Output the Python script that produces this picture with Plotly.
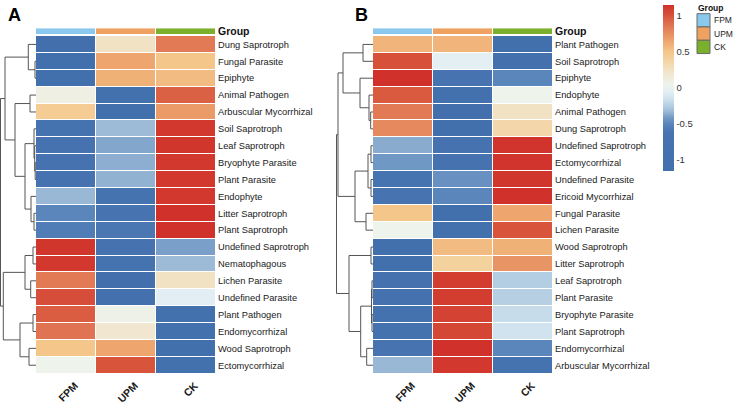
import plotly.graph_objects as go

# ---------------- data ----------------
groups = ["FPM", "UPM", "CK"]
group_colors = ["#8AC8EE", "#EFA25F", "#7BB02D"]

rows_A = ["Dung Saprotroph", "Fungal Parasite", "Epiphyte", "Animal Pathogen",
          "Arbuscular Mycorrhizal", "Soil Saprotroph", "Leaf Saprotroph",
          "Bryophyte Parasite", "Plant Parasite", "Endophyte", "Litter Saprotroph",
          "Plant Saprotroph", "Undefined Saprotroph", "Nematophagous",
          "Lichen Parasite", "Undefined Parasite", "Plant Pathogen",
          "Endomycorrhizal", "Wood Saprotroph", "Ectomycorrhizal"]
fpm_A = [-1.10, -1.15, -1.15, 0.10, 0.45, -0.80, -0.75, -0.76, -0.77, -0.33, -0.50,
         -0.55, 1.13, 1.12, 0.85, 1.03, 0.97, 0.88, 0.50, 0.05]
upm_A = [0.25, 0.65, 0.60, -1.05, -1.15, -0.32, -0.38, -0.36, -0.35, -0.79, -0.65,
         -0.60, -0.75, -0.80, -1.10, -0.97, 0.07, 0.20, 0.65, 1.00]
ck_A = [0.85, 0.50, 0.55, 0.95, 0.70, 1.12, 1.13, 1.12, 1.12, 1.12, 1.15,
        1.15, -0.40, -0.32, 0.25, -0.06, -1.04, -1.08, -1.15, -1.05]

rows_B = ["Plant Pathogen", "Soil Saprotroph", "Epiphyte", "Endophyte",
          "Animal Pathogen", "Dung Saprotroph", "Undefined Saprotroph",
          "Ectomycorrhizal", "Undefined Parasite", "Ericoid Mycorrhizal",
          "Fungal Parasite", "Lichen Parasite", "Wood Saprotroph",
          "Litter Saprotroph", "Leaf Saprotroph", "Plant Parasite",
          "Bryophyte Parasite", "Plant Saprotroph", "Endomycorrhizal",
          "Arbuscular Mycorrhizal"]
fpm_B = [0.58, 1.02, 1.15, 0.98, 0.85, 0.78, -0.37, -0.42, -0.68, -0.65,
         0.50, 0.05, -1.15, -1.13, -0.85, -0.86, -0.90, -0.92, -0.65, -0.33]
upm_B = [0.58, -0.05, -0.65, -1.03, -1.10, -1.13, -0.77, -0.72, -0.45, -0.50,
         -1.15, -1.05, 0.55, 0.40, 1.10, 1.10, 1.08, 1.06, 1.15, 1.12]
ck_B = [-1.155, -0.97, -0.50, 0.05, 0.25, 0.35, 1.14, 1.14, 1.13, 1.15,
        0.65, 1.00, 0.60, 0.73, -0.25, -0.24, -0.18, -0.14, -0.50, -0.80]

# dendrogram merges (indices < 20 are leaves in display order, >= 20 earlier merges)
dendA_left = [1, 0, 3, 7, 6, 5, 10, 9, 25, 22, 21, 12, 14, 31, 16, 18, 34, 33, 30]
dendA_right = [2, 20, 4, 8, 23, 24, 11, 26, 27, 28, 29, 13, 15, 32, 17, 19, 35, 36, 37]
dendA_height = [1.0, 7.7, 6.0, 0.8, 1.3, 2.0, 2.0, 5.0, 11.0, 21.0, 31.0,
                3.0, 5.3, 11.0, 3.0, 7.0, 16.0, 32.7, 35.5]

dendB_left = [0, 4, 3, 2, 20, 6, 8, 25, 10, 27, 24, 12, 14, 16, 32, 18, 34, 31, 30]
dendB_right = [1, 5, 21, 22, 23, 7, 9, 26, 11, 28, 29, 13, 15, 17, 33, 19, 35, 36, 37]
dendB_height = [10.0, 2.3, 4.0, 13.0, 30.0, 2.0, 2.0, 5.0, 7.0, 18.0, 35.0,
                2.0, 1.0, 1.0, 1.5, 6.3, 12.3, 24.0, 36.5]

cbar_ticks = [-1, -0.5, 0, 0.5, 1]
cbar_ticktext = ["-1", "-0.5", "0", "0.5", "1"]
zlim = 1.155

# ---------------- style ----------------
PX, PY = 734, 405
FONT = "Liberation Sans, Arial, sans-serif"


def xd(a, b):
    return [a / PX, b / PX]


def yd(top, bottom):
    return [1 - bottom / PY, 1 - top / PY]


stops = [(-1.155, "#4270AC"), (-0.62, "#4774B0"), (-0.52, "#5581B9"), (-0.42, "#7098C4"),
         (-0.35, "#92B2D2"), (-0.28, "#ABC7DE"), (-0.15, "#CFE2EE"), (-0.05, "#E4EFF3"),
         (0.05, "#EEF3EC"), (0.15, "#F0EADA"), (0.25, "#F2E2C4"), (0.40, "#F4D29E"),
         (0.50, "#F4C68A"), (0.65, "#EEA66E"), (0.85, "#E27A56"), (1.00, "#D8553C"),
         (1.155, "#D0302A")]
colorscale = [[(v + zlim) / (2 * zlim), c] for v, c in stops]
colorscale[0][0] = 0.0
colorscale[-1][0] = 1.0


def dendro_xy(left, right, height, n):
    pos = {i: float(i) for i in range(n)}
    hh = {i: 0.0 for i in range(n)}
    xs, ys = [], []
    for k, (l, r, h) in enumerate(zip(left, right, height)):
        idx = n + k
        xs += [hh[l], h, h, hh[r], None]
        ys += [pos[l], pos[l], pos[r], pos[r], None]
        pos[idx] = (pos[l] + pos[r]) / 2
        hh[idx] = h
    return xs, ys


fig = go.Figure()

panels = [
    dict(rows=rows_A, vals=[fpm_A, upm_A, ck_A], dl=dendA_left, dr=dendA_right,
         dh=dendA_height, hx=(36, 216), dx=(0, 36), drange=36, ax=["", "2", "3"]),
    dict(rows=rows_B, vals=[fpm_B, upm_B, ck_B], dl=dendB_left, dr=dendB_right,
         dh=dendB_height, hx=(373, 553), dx=(336, 373), drange=37, ax=["4", "5", "6"]),
]

HM_TOP, HM_BOT = 34, 382
GB_TOP, GB_BOT = 26, 32

layout_axes = {}
for p in panels:
    a_h, a_g, a_d = p["ax"]
    n = len(p["rows"])
    z = [[p["vals"][j][i] for j in range(3)] for i in range(n)]
    fig.add_trace(go.Heatmap(
        z=z, x=[0, 1, 2], y=list(range(n)), coloraxis="coloraxis",
        xgap=1, ygap=1, xaxis="x" + a_h, yaxis="y" + a_h, hoverinfo="skip"))
    fig.add_trace(go.Heatmap(
        z=[[0, 1, 2]], x=[0, 1, 2], y=[0], zmin=0, zmax=2, showscale=False,
        colorscale=[[0, group_colors[0]], [0.25, group_colors[0]],
                    [0.25, group_colors[1]], [0.75, group_colors[1]],
                    [0.75, group_colors[2]], [1, group_colors[2]]],
        xgap=1, xaxis="x" + a_g, yaxis="y" + a_g, hoverinfo="skip"))
    dxs, dys = dendro_xy(p["dl"], p["dr"], p["dh"], n)
    fig.add_trace(go.Scatter(
        x=dxs, y=dys, mode="lines", line=dict(color="#555555", width=1),
        showlegend=False, hoverinfo="skip",
        xaxis="x" + a_d, yaxis="y" + a_d))

    layout_axes["xaxis" + a_h] = dict(
        domain=xd(*p["hx"]), range=[-0.5, 2.5], anchor="y" + a_h,
        tickvals=[0, 1, 2], ticktext=["<b>%s</b>" % g for g in groups],
        tickangle=-45, ticks="", showgrid=False, zeroline=False, showline=False,
        ticklabelshift=9, ticklabelstandoff=3,
        tickfont=dict(family=FONT, size=10.5, color="#1a1a1a"))
    layout_axes["yaxis" + a_h] = dict(
        domain=yd(HM_TOP, HM_BOT), range=[n - 0.5, -0.5], anchor="x" + a_h,
        side="right", tickvals=list(range(n)), ticktext=p["rows"], ticks="",
        showgrid=False, zeroline=False, showline=False, ticklabelstandoff=1,
        tickfont=dict(family=FONT, size=9.3, color="#1a1a1a"))
    layout_axes["xaxis" + a_g] = dict(
        domain=xd(*p["hx"]), range=[-0.5, 2.5], anchor="y" + a_g,
        showticklabels=False, ticks="", showgrid=False, zeroline=False)
    layout_axes["yaxis" + a_g] = dict(
        domain=yd(GB_TOP, GB_BOT), range=[-0.5, 0.5], anchor="x" + a_g,
        side="right", tickvals=[0], ticktext=["<b>Group</b>"], ticks="",
        showgrid=False, zeroline=False, ticklabelstandoff=1,
        tickfont=dict(family=FONT, size=10.5, color="#111111"))
    layout_axes["xaxis" + a_d] = dict(
        domain=xd(*p["dx"]), range=[p["drange"], 0], anchor="y" + a_d,
        visible=False)
    layout_axes["yaxis" + a_d] = dict(
        domain=yd(HM_TOP, HM_BOT), range=[n - 0.5, -0.5], anchor="x" + a_d,
        visible=False)

fig.update_layout(**layout_axes)

fig.update_layout(
    width=PX, height=PY, margin=dict(l=0, r=0, t=0, b=0),
    paper_bgcolor="white", plot_bgcolor="white", showlegend=False,
    font=dict(family=FONT),
    coloraxis=dict(
        colorscale=colorscale, cmin=-zlim, cmax=zlim,
        colorbar=dict(
            x=663 / PX, xanchor="left", y=1 - 2 / PY, yanchor="top",
            len=171 / PY, lenmode="fraction", thickness=11, thicknessmode="pixels",
            xpad=0, ypad=0, outlinewidth=0, ticks="",
            tickvals=cbar_ticks, ticktext=cbar_ticktext,
            tickfont=dict(family=FONT, size=9.5, color="#333333"))),
)

# legend for groups
shapes = []
annotations = []
box_top = 11
box_h = 13.7
for i, (g, c) in enumerate(zip(groups, group_colors)):
    y0 = box_top + i * box_h
    shapes.append(dict(type="rect", xref="paper", yref="paper",
                       x0=697 / PX, x1=710 / PX, y0=1 - (y0 + box_h) / PY, y1=1 - y0 / PY,
                       fillcolor=c, line=dict(color="#6a6a6a", width=1)))
    annotations.append(dict(text=g, xref="paper", yref="paper", x=712 / PX,
                            y=1 - (y0 + box_h / 2) / PY, xanchor="left", yanchor="middle",
                            showarrow=False,
                            font=dict(family=FONT, size=8.5, color="#222222")))
annotations.append(dict(text="<b>Group</b>", xref="paper", yref="paper", x=696 / PX,
                        y=1 - 5 / PY, xanchor="left", yanchor="middle", showarrow=False,
                        font=dict(family=FONT, size=8.5, color="#111111")))
for lab, xc in [("A", 14), ("B", 361)]:
    annotations.append(dict(text="<b>%s</b>" % lab, xref="paper", yref="paper",
                            x=xc / PX, y=1 - 12.5 / PY, xanchor="center", yanchor="middle",
                            showarrow=False,
                            font=dict(family=FONT, size=18, color="#000000")))

fig.update_layout(shapes=shapes, annotations=annotations)

fig.write_html("out.html")
